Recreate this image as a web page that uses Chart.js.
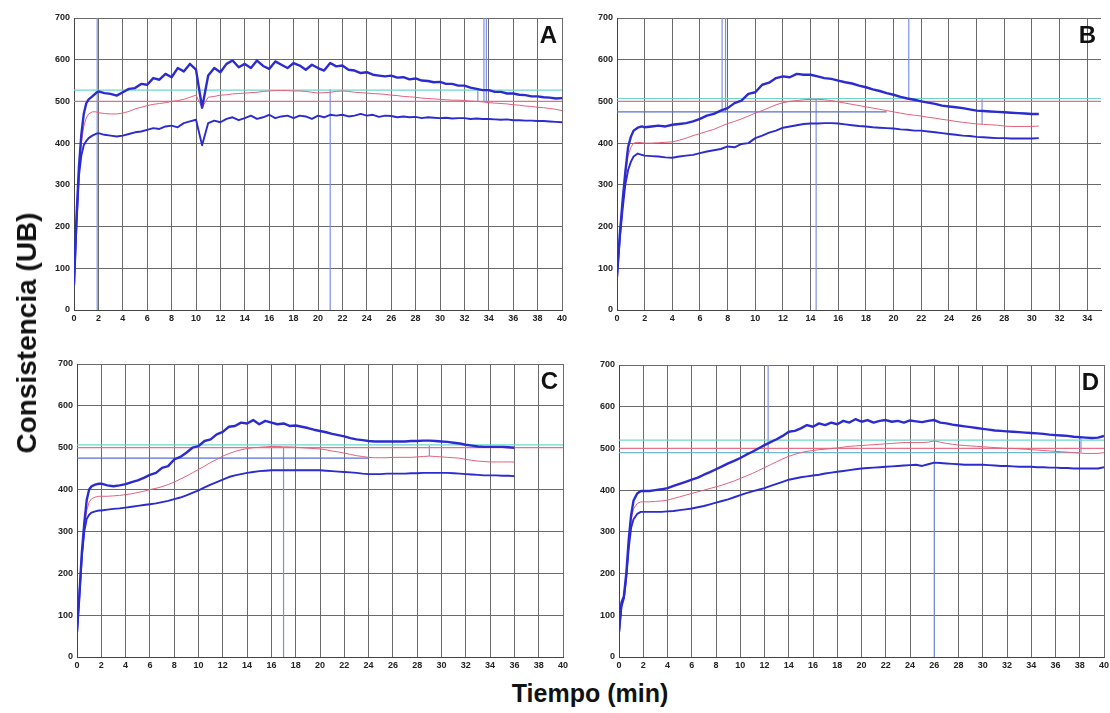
<!DOCTYPE html>
<html>
<head>
<meta charset="utf-8">
<script src="https://cdn.jsdelivr.net/npm/chart.js@4.4.1/dist/chart.umd.min.js"></script>
<style>
  body { margin: 0; background: #fff; width: 1110px; height: 713px; overflow: hidden; position: relative;
         font-family: "Liberation Sans", Arial, sans-serif; }
  canvas { position: absolute; }
  #ytitle { position: absolute; left: 27px; top: 333px; transform: translate(-50%, -50%) rotate(-90deg);
            font-weight: bold; font-size: 28px; white-space: nowrap; color: #111; }
  #xtitle { position: absolute; left: 590px; top: 693px; transform: translate(-50%, -50%);
            font-weight: bold; font-size: 25px; white-space: nowrap; color: #111; }
</style>
</head>
<body>
<canvas id="chartA"></canvas>
<canvas id="chartB"></canvas>
<canvas id="chartC"></canvas>
<canvas id="chartD"></canvas>
<div id="ytitle">Consistencia (UB)</div>
<div id="xtitle">Tiempo (min)</div>
<script>
// Time axis (min), shared by all four farinograms ----------
var timeMin = [0, 0.2, 0.4, 0.6, 0.8, 1, 1.2, 1.5, 1.8,
  2, 2.5, 3, 3.5, 4, 4.5, 5, 5.5,
  6, 6.5, 7, 7.5, 8, 8.5, 9, 9.5,
  10, 10.5, 11, 11.5, 12, 12.5, 13, 13.5,
  14, 14.5, 15, 15.5, 16, 16.5, 17, 17.5,
  18, 18.5, 19, 19.5, 20, 20.5, 21, 21.5,
  22, 22.5, 23, 23.5, 24, 24.5, 25, 25.5,
  26, 26.5, 27, 27.5, 28, 28.5, 29, 29.5,
  30, 30.5, 31, 31.5, 32, 32.5, 33, 33.5,
  34, 34.5, 35, 35.5, 36, 36.5, 37, 37.5,
  38, 38.5, 39, 39.5, 40];

var xTicksStep = 2;
var yTicksStep = 100;

// Panel A ----------
var upperA = [60, 220, 340, 420, 470, 495, 505, 512, 520,
  524, 520, 518, 514, 522, 530, 532, 542,
  540, 556, 552, 566, 558, 580, 572, 590,
  576, 485, 562, 580, 570, 590, 598, 582,
  590, 580, 598, 585, 578, 596, 588, 580,
  592, 586, 576, 588, 580, 574, 592, 584,
  586, 576, 574, 568, 570, 564, 562, 560,
  562, 557, 558, 553, 555, 550, 549, 546,
  547, 542, 542, 538, 538, 533, 530, 527,
  527, 523, 523, 519, 519, 516, 515, 512,
  512, 510, 509, 507, 508];
var middleA = [60, 200, 330, 400, 440, 460, 470, 475, 475,
  473, 471, 470, 470, 472, 476, 482, 486,
  490, 493, 495, 497, 500, 502, 505, 510,
  515, 485, 510, 512, 515, 516, 518, 519,
  520, 521, 522, 524, 525, 526, 526, 526,
  525, 525, 524, 522, 520, 521, 522, 524,
  525, 524, 522, 521, 520, 519, 518, 517,
  515, 514, 512, 511, 510, 508, 507, 506,
  505, 504, 503, 503, 502, 501, 500, 499,
  497, 496, 495, 494, 492, 491, 489, 488,
  486, 485, 483, 481, 478];
var lowerA = [60, 200, 320, 370, 395, 405, 412, 418, 422,
  424, 420, 418, 416, 418, 422, 426, 428,
  432, 436, 434, 440, 442, 438, 448, 452,
  456, 395, 448, 454, 450, 458, 462, 455,
  460, 466, 458, 462, 468, 460, 464, 466,
  460, 466, 464, 458, 466, 462, 468, 466,
  468, 464, 466, 470, 466, 468, 463, 466,
  465, 462, 464, 462, 463, 460, 462, 461,
  460, 461, 459, 460, 460, 458, 459, 458,
  458, 457, 456, 457, 455, 455, 454, 454,
  453, 453, 452, 451, 450];

// Panel B ----------
var upperB = [80, 180, 260, 330, 390, 415, 430, 437, 440,
  438, 440, 442, 440, 444, 446, 448, 452,
  458, 466, 470, 478, 484, 496, 502, 518,
  522, 540, 545, 556, 560, 558, 566, 564,
  564, 560, 556, 554, 550, 546, 543, 538,
  534, 529, 525, 520, 516, 511, 507, 504,
  500, 497, 494, 490, 488, 486, 484, 481,
  478, 477, 476, 475, 474, 473, 472, 471,
  470, 470];
var middleB = [80, 170, 250, 320, 370, 390, 400, 402, 401,
  400, 400, 401, 402, 403, 407, 412, 418,
  423, 428, 433, 440, 447, 452, 458, 465,
  472, 478, 485, 492, 497, 500, 502, 504,
  505, 505, 504, 502, 499, 496, 493, 490,
  487, 484, 481, 478, 475, 472, 469, 467,
  465, 462, 460, 457, 455, 452, 450, 448,
  446, 445, 444, 443, 441, 440, 440, 440,
  440, 441];
var lowerB = [80, 170, 240, 300, 335, 355, 368, 375, 372,
  370, 369, 368, 366, 365, 368, 370, 372,
  376, 380, 383, 386, 392, 390, 398, 400,
  412, 418, 425, 430, 437, 440, 443, 446,
  447, 447, 448, 448, 447, 445, 443, 441,
  440, 438, 437, 436, 435, 433, 432, 430,
  430, 428, 426, 424, 422, 420, 418, 417,
  415, 414, 413, 412, 412, 411, 411, 411,
  411, 412];

// Panel C ----------
var upperC = [60, 150, 250, 320, 375, 400, 408, 412, 414,
  414, 410, 408, 410, 413, 418, 422, 428,
  435, 440, 452, 456, 472, 478, 488, 500,
  504, 516, 520, 532, 538, 550, 552, 560,
  558, 566, 556, 564, 560, 556, 558, 552,
  553, 550, 547, 543, 540, 537, 533, 530,
  527, 523, 520, 518, 516, 515, 515, 515,
  515, 515, 515, 516, 516, 517, 517, 516,
  515, 514, 512, 510, 507, 505, 503, 502,
  502, 502, 502, 501, 500];
var middleC = [60, 150, 240, 310, 350, 370, 378, 382, 384,
  384, 384, 385, 386, 388, 390, 393, 396,
  400, 403, 407, 412, 418, 425, 432, 440,
  448, 456, 465, 472, 480, 486, 491, 495,
  498, 500, 501, 502, 503, 503, 502, 502,
  501, 500, 499, 498, 497, 495, 492, 490,
  487, 484, 481, 479, 477, 476, 476, 476,
  477, 477, 477, 477, 478, 479, 480, 479,
  478, 477, 476, 475, 472, 470, 468, 467,
  466, 466, 466, 466, 466];
var lowerC = [60, 150, 240, 300, 330, 340, 345, 348, 350,
  350, 352, 354, 355, 357, 359, 361, 363,
  365, 367, 370, 373, 377, 381, 386, 392,
  398, 405, 412, 418, 424, 430, 434, 437,
  440, 442, 444, 445, 446, 446, 446, 446,
  446, 446, 446, 446, 446, 445, 444, 443,
  442, 441, 440, 438, 437, 437, 437, 438,
  438, 438, 438, 439, 439, 440, 440, 440,
  440, 440, 439, 438, 437, 436, 435, 434,
  434, 434, 433, 433, 432];

// Panel D ----------
var upperD = [60, 130, 145, 200, 280, 340, 375, 392, 398,
  398, 398, 400, 402, 405, 410, 415, 420,
  425, 430, 437, 443, 450, 457, 464, 470,
  477, 485, 492, 500, 508, 515, 522, 530,
  540, 542, 548, 556, 552, 560, 556, 562,
  558, 566, 562, 570, 564, 568, 562, 566,
  568, 564, 566, 562, 567, 565, 563, 566,
  568, 562, 560, 557, 555, 553, 551, 549,
  547, 545, 543, 542, 541, 540, 539, 538,
  537, 536, 535, 533, 532, 531, 530, 528,
  527, 526, 525, 526, 530];
var middleD = [60, 120, 140, 190, 270, 330, 355, 368, 372,
  372, 372, 373, 374, 376, 380, 384, 388,
  392, 396, 400, 404, 408, 412, 417, 422,
  428, 434, 440, 447, 454, 461, 468, 475,
  481, 486, 490, 493, 495, 497, 498, 500,
  501, 503, 505, 506, 507, 508, 509, 510,
  511, 512, 513, 514, 514, 514, 514, 515,
  518, 515, 512, 510, 508, 507, 506, 505,
  504, 503, 502, 501, 500, 500, 499, 498,
  497, 496, 495, 494, 493, 492, 491, 490,
  489, 488, 488, 488, 490];
var lowerD = [60, 120, 140, 190, 260, 310, 330, 343, 348,
  348, 348, 348, 348, 349, 350, 352, 354,
  356, 359, 362, 366, 370, 374, 378, 383,
  388, 393, 397, 401, 405, 410, 415, 420,
  425, 428, 431, 433, 435, 437, 440, 442,
  444, 446, 448, 450, 452, 453, 454, 455,
  456, 457, 458, 459, 460, 461, 458, 462,
  466, 465, 464, 463, 462, 461, 461, 461,
  461, 460, 459, 458, 458, 457, 456, 456,
  456, 455, 455, 454, 454, 453, 453, 452,
  452, 452, 452, 452, 455];

// Reference lines: horizontal [UB, from min, to min, kind], vertical [min, from UB, to UB]
var hLinesA = [[527, 0, 40, 'cyan'], [500, 0, 40, 'pink']];
var hLinesB = [[507, 0, 35, 'cyan'], [500, 0, 35, 'red'], [475, 0, 19.5, 'blue']];
var hLinesC = [[507, 0, 40, 'cyan'], [500, 0, 40, 'red'], [475, 0, 24, 'blue']];
var hLinesD = [[520, 0, 40, 'cyan'], [500, 0, 40, 'red'], [490, 0, 38, 'teal']];

var vLinesA = [[1.9, 0, 700], [21.0, 0, 530], [33.1, 500, 528], [33.6, 500, 700], [33.8, 500, 700]];
var vLinesB = [[7.6, 475, 700], [7.85, 475, 700], [14.4, 0, 505], [21.1, 505, 700], [26.4, 445, 505]];
var vLinesC = [[17.0, 0, 500], [29.0, 480, 505]];
var vLinesD = [[12.3, 490, 700], [26.0, 0, 470], [38.1, 490, 525]];

// Styling ----------
var blueCurve = '#2b2bd0';
var redCurve = '#e4607c';
var refColors = { cyan: '#6fd6cc', pink: '#d8709c', red: '#e8708a', blue: '#5a6ed6', teal: '#70b8c8' };
var vLineColor = '#7d90e4';
var gridColor = '#6a6a6a';
var tickFont = { family: '"Liberation Sans", Arial, sans-serif', size: 9, weight: 'bold' };

// Draw the panel letter in the top right corner of the plot
var letterPlugin = {
  id: 'letter',
  afterDraw: function (chart, args, opts) {
    var ctx = chart.ctx, a = chart.chartArea;
    ctx.save();
    ctx.font = 'bold 24px "Liberation Sans", Arial, sans-serif';
    ctx.fillStyle = '#111';
    ctx.textAlign = 'right';
    ctx.textBaseline = 'alphabetic';
    ctx.fillText(opts.text, a.right - 5, a.top + 25);
    ctx.restore();
  }
};

function toPoints(values) {
  return values.map(function (v, i) { return { x: timeMin[i], y: v }; });
}

function makePanel(id, box, xMax, letter, upper, middle, lower, hLines, vLines) {
  var yAxisW = 32, xAxisH = 20, padTop = 14, padRight = 10;
  var canvas = document.getElementById(id);
  canvas.width = box.r - box.l + yAxisW + padRight;
  canvas.height = box.b - box.t + padTop + xAxisH;
  canvas.style.left = (box.l - yAxisW) + 'px';
  canvas.style.top = (box.t - padTop) + 'px';

  var datasets = [];
  // the upper curve is the noisiest one, so it gets the widest trace
  datasets.push({ data: toPoints(upper), borderColor: blueCurve, borderWidth: 2.4, order: 0 });
  datasets.push({ data: toPoints(lower), borderColor: blueCurve, borderWidth: 1.9, order: 0 });
  datasets.push({ data: toPoints(middle), borderColor: redCurve, borderWidth: 1, order: 1 });
  hLines.forEach(function (h) {
    datasets.push({ data: [{ x: h[1], y: h[0] }, { x: h[2], y: h[0] }],
                    borderColor: refColors[h[3]], borderWidth: 1.2, order: 2 });
  });
  vLines.forEach(function (v) {
    datasets.push({ data: [{ x: v[0], y: v[1] }, { x: v[0], y: v[2] }],
                    borderColor: vLineColor, borderWidth: 1.2, order: 2 });
  });

  return new Chart(canvas.getContext('2d'), {
    type: 'line',
    data: { datasets: datasets },
    plugins: [letterPlugin],
    options: {
      responsive: false,
      animation: false,
      devicePixelRatio: 1,
      layout: { padding: { top: padTop, right: padRight, left: 0, bottom: 0 } },
      elements: { point: { radius: 0 }, line: { tension: 0, borderJoinStyle: 'round' } },
      plugins: { legend: { display: false }, tooltip: { enabled: false }, letter: { text: letter } },
      scales: {
        x: {
          type: 'linear', min: 0, max: xMax,
          afterFit: function (s) { s.height = xAxisH; },
          ticks: { stepSize: xTicksStep, includeBounds: false, font: tickFont, color: '#222', padding: 3, maxRotation: 0 },
          grid: { color: gridColor, drawTicks: false },
          border: { color: '#444' }
        },
        y: {
          min: 0, max: 700,
          afterFit: function (s) { s.width = yAxisW; },
          ticks: { stepSize: yTicksStep, font: tickFont, color: '#222', padding: 4 },
          grid: { color: gridColor, drawTicks: false },
          border: { color: '#444' }
        }
      }
    }
  });
}

makePanel('chartA', { l: 74, r: 562, t: 18, b: 310 }, 40, 'A', upperA, middleA, lowerA, hLinesA, vLinesA);
makePanel('chartB', { l: 617, r: 1101, t: 18, b: 310 }, 35, 'B', upperB, middleB, lowerB, hLinesB, vLinesB);
makePanel('chartC', { l: 77, r: 563, t: 364, b: 657 }, 40, 'C', upperC, middleC, lowerC, hLinesC, vLinesC);
makePanel('chartD', { l: 619, r: 1104, t: 365, b: 657 }, 40, 'D', upperD, middleD, lowerD, hLinesD, vLinesD);
</script>
</body>
</html>
